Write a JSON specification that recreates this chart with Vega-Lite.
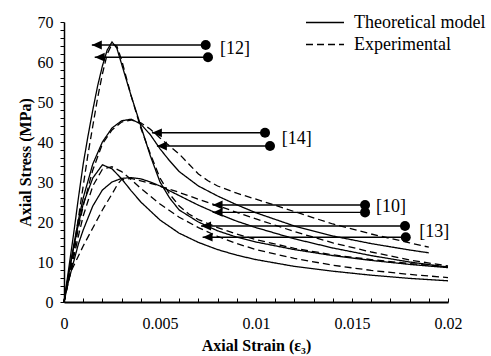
{
"$schema":"https://vega.github.io/schema/vega-lite/v6.json",
"width":384,"height":280,
"autosize":{"type":"none"},
"padding":{"left":64,"top":22,"right":43,"bottom":54},
"config":{"view":{"stroke":null},"font":"Liberation Serif",
 "axis":{"grid":false,"ticks":true,"labelOverlap":false,"domainColor":"black","tickColor":"black","tickWidth":1,"labelColor":"black","titleColor":"black","labelFont":"Liberation Serif","titleFont":"Liberation Serif","labelFontSize":16,"titleFontSize":16,"titleFontWeight":"bold"},
 "legend":{"labelFont":"Liberation Serif"}},
"datasets":{
"curves":[
{"c":"12T","t":"Theoretical model","s":0,"v":0},{"c":"12T","t":"Theoretical model","s":0.00025,"v":8.5},{"c":"12T","t":"Theoretical model","s":0.0005,"v":17},{"c":"12T","t":"Theoretical model","s":0.00075,"v":26},{"c":"12T","t":"Theoretical model","s":0.001,"v":34.5},{"c":"12T","t":"Theoretical model","s":0.00125,"v":41.5},{"c":"12T","t":"Theoretical model","s":0.0015,"v":48},{"c":"12T","t":"Theoretical model","s":0.00175,"v":54},{"c":"12T","t":"Theoretical model","s":0.002,"v":59},{"c":"12T","t":"Theoretical model","s":0.00225,"v":63},{"c":"12T","t":"Theoretical model","s":0.0025,"v":65},{"c":"12T","t":"Theoretical model","s":0.00275,"v":63.5},{"c":"12T","t":"Theoretical model","s":0.003,"v":59.5},{"c":"12T","t":"Theoretical model","s":0.0035,"v":51.5},{"c":"12T","t":"Theoretical model","s":0.004,"v":44},{"c":"12T","t":"Theoretical model","s":0.0045,"v":36.5},{"c":"12T","t":"Theoretical model","s":0.005,"v":30},{"c":"12T","t":"Theoretical model","s":0.0055,"v":26},{"c":"12T","t":"Theoretical model","s":0.006,"v":23},{"c":"12T","t":"Theoretical model","s":0.007,"v":20},{"c":"12T","t":"Theoretical model","s":0.008,"v":17.8},{"c":"12T","t":"Theoretical model","s":0.009,"v":16.2},{"c":"12T","t":"Theoretical model","s":0.01,"v":15},{"c":"12T","t":"Theoretical model","s":0.012,"v":13.1},{"c":"12T","t":"Theoretical model","s":0.014,"v":11.6},{"c":"12T","t":"Theoretical model","s":0.016,"v":10.4},{"c":"12T","t":"Theoretical model","s":0.018,"v":9.4},{"c":"12T","t":"Theoretical model","s":0.02,"v":8.6},
{"c":"12E","t":"Experimental","s":0,"v":0},{"c":"12E","t":"Experimental","s":0.00025,"v":6},{"c":"12E","t":"Experimental","s":0.0005,"v":13},{"c":"12E","t":"Experimental","s":0.00075,"v":21},{"c":"12E","t":"Experimental","s":0.001,"v":29},{"c":"12E","t":"Experimental","s":0.00125,"v":37},{"c":"12E","t":"Experimental","s":0.0015,"v":44},{"c":"12E","t":"Experimental","s":0.00175,"v":51},{"c":"12E","t":"Experimental","s":0.002,"v":57},{"c":"12E","t":"Experimental","s":0.00225,"v":62},{"c":"12E","t":"Experimental","s":0.0025,"v":64.5},{"c":"12E","t":"Experimental","s":0.00275,"v":64},{"c":"12E","t":"Experimental","s":0.003,"v":60.5},{"c":"12E","t":"Experimental","s":0.00325,"v":56},{"c":"12E","t":"Experimental","s":0.0035,"v":51.5},{"c":"12E","t":"Experimental","s":0.00375,"v":47.5},{"c":"12E","t":"Experimental","s":0.004,"v":43.5},{"c":"12E","t":"Experimental","s":0.0045,"v":37},{"c":"12E","t":"Experimental","s":0.005,"v":31},{"c":"12E","t":"Experimental","s":0.0055,"v":27},{"c":"12E","t":"Experimental","s":0.006,"v":24},{"c":"12E","t":"Experimental","s":0.0065,"v":22},{"c":"12E","t":"Experimental","s":0.007,"v":20.6},{"c":"12E","t":"Experimental","s":0.008,"v":18.6},{"c":"12E","t":"Experimental","s":0.009,"v":17},{"c":"12E","t":"Experimental","s":0.01,"v":15.6},{"c":"12E","t":"Experimental","s":0.012,"v":13.4},{"c":"12E","t":"Experimental","s":0.014,"v":11.8},{"c":"12E","t":"Experimental","s":0.016,"v":10.6},{"c":"12E","t":"Experimental","s":0.018,"v":9.6},{"c":"12E","t":"Experimental","s":0.02,"v":8.8},
{"c":"14T","t":"Theoretical model","s":0,"v":0},{"c":"14T","t":"Theoretical model","s":0.00025,"v":7.5},{"c":"14T","t":"Theoretical model","s":0.0005,"v":14},{"c":"14T","t":"Theoretical model","s":0.00075,"v":20.5},{"c":"14T","t":"Theoretical model","s":0.001,"v":26},{"c":"14T","t":"Theoretical model","s":0.0015,"v":34.5},{"c":"14T","t":"Theoretical model","s":0.002,"v":40},{"c":"14T","t":"Theoretical model","s":0.0025,"v":43.5},{"c":"14T","t":"Theoretical model","s":0.003,"v":45.3},{"c":"14T","t":"Theoretical model","s":0.0035,"v":45.7},{"c":"14T","t":"Theoretical model","s":0.004,"v":44.5},{"c":"14T","t":"Theoretical model","s":0.0045,"v":41.8},{"c":"14T","t":"Theoretical model","s":0.005,"v":38.3},{"c":"14T","t":"Theoretical model","s":0.0055,"v":35.3},{"c":"14T","t":"Theoretical model","s":0.006,"v":32.6},{"c":"14T","t":"Theoretical model","s":0.007,"v":29},{"c":"14T","t":"Theoretical model","s":0.008,"v":26.5},{"c":"14T","t":"Theoretical model","s":0.009,"v":24.3},{"c":"14T","t":"Theoretical model","s":0.01,"v":22.3},{"c":"14T","t":"Theoretical model","s":0.012,"v":19},{"c":"14T","t":"Theoretical model","s":0.014,"v":16.5},{"c":"14T","t":"Theoretical model","s":0.016,"v":14.6},{"c":"14T","t":"Theoretical model","s":0.018,"v":13},{"c":"14T","t":"Theoretical model","s":0.019,"v":12.3},
{"c":"14E","t":"Experimental","s":0,"v":0},{"c":"14E","t":"Experimental","s":0.00025,"v":6},{"c":"14E","t":"Experimental","s":0.0005,"v":12},{"c":"14E","t":"Experimental","s":0.00075,"v":18.5},{"c":"14E","t":"Experimental","s":0.001,"v":24},{"c":"14E","t":"Experimental","s":0.0015,"v":33},{"c":"14E","t":"Experimental","s":0.002,"v":39.5},{"c":"14E","t":"Experimental","s":0.0025,"v":43},{"c":"14E","t":"Experimental","s":0.003,"v":45},{"c":"14E","t":"Experimental","s":0.0035,"v":45.5},{"c":"14E","t":"Experimental","s":0.004,"v":44.8},{"c":"14E","t":"Experimental","s":0.0045,"v":43.2},{"c":"14E","t":"Experimental","s":0.005,"v":41},{"c":"14E","t":"Experimental","s":0.0055,"v":39},{"c":"14E","t":"Experimental","s":0.006,"v":37},{"c":"14E","t":"Experimental","s":0.0065,"v":34.5},{"c":"14E","t":"Experimental","s":0.007,"v":32},{"c":"14E","t":"Experimental","s":0.0075,"v":30.3},{"c":"14E","t":"Experimental","s":0.008,"v":29},{"c":"14E","t":"Experimental","s":0.009,"v":27.2},{"c":"14E","t":"Experimental","s":0.01,"v":25.7},{"c":"14E","t":"Experimental","s":0.011,"v":24.2},{"c":"14E","t":"Experimental","s":0.012,"v":22.6},{"c":"14E","t":"Experimental","s":0.014,"v":19.5},{"c":"14E","t":"Experimental","s":0.016,"v":17},{"c":"14E","t":"Experimental","s":0.018,"v":14.8},{"c":"14E","t":"Experimental","s":0.019,"v":13.7},
{"c":"13T","t":"Theoretical model","s":0,"v":0},{"c":"13T","t":"Theoretical model","s":0.00025,"v":7},{"c":"13T","t":"Theoretical model","s":0.0005,"v":13.5},{"c":"13T","t":"Theoretical model","s":0.00075,"v":19.5},{"c":"13T","t":"Theoretical model","s":0.001,"v":24.5},{"c":"13T","t":"Theoretical model","s":0.0015,"v":31},{"c":"13T","t":"Theoretical model","s":0.002,"v":34.3},{"c":"13T","t":"Theoretical model","s":0.0025,"v":33.3},{"c":"13T","t":"Theoretical model","s":0.003,"v":30.8},{"c":"13T","t":"Theoretical model","s":0.0035,"v":27.8},{"c":"13T","t":"Theoretical model","s":0.004,"v":25},{"c":"13T","t":"Theoretical model","s":0.005,"v":20.5},{"c":"13T","t":"Theoretical model","s":0.006,"v":17.2},{"c":"13T","t":"Theoretical model","s":0.007,"v":14.9},{"c":"13T","t":"Theoretical model","s":0.008,"v":13.1},{"c":"13T","t":"Theoretical model","s":0.009,"v":11.7},{"c":"13T","t":"Theoretical model","s":0.01,"v":10.6},{"c":"13T","t":"Theoretical model","s":0.012,"v":8.9},{"c":"13T","t":"Theoretical model","s":0.014,"v":7.7},{"c":"13T","t":"Theoretical model","s":0.016,"v":6.7},{"c":"13T","t":"Theoretical model","s":0.018,"v":5.9},{"c":"13T","t":"Theoretical model","s":0.02,"v":5.3},
{"c":"13E","t":"Experimental","s":0,"v":0},{"c":"13E","t":"Experimental","s":0.00025,"v":5.5},{"c":"13E","t":"Experimental","s":0.0005,"v":11},{"c":"13E","t":"Experimental","s":0.00075,"v":16.5},{"c":"13E","t":"Experimental","s":0.001,"v":21.5},{"c":"13E","t":"Experimental","s":0.0015,"v":29},{"c":"13E","t":"Experimental","s":0.002,"v":33.2},{"c":"13E","t":"Experimental","s":0.0025,"v":33.8},{"c":"13E","t":"Experimental","s":0.003,"v":32.6},{"c":"13E","t":"Experimental","s":0.0035,"v":30.6},{"c":"13E","t":"Experimental","s":0.004,"v":28.4},{"c":"13E","t":"Experimental","s":0.005,"v":24.5},{"c":"13E","t":"Experimental","s":0.006,"v":21.2},{"c":"13E","t":"Experimental","s":0.007,"v":18.6},{"c":"13E","t":"Experimental","s":0.008,"v":16.4},{"c":"13E","t":"Experimental","s":0.009,"v":14.6},{"c":"13E","t":"Experimental","s":0.01,"v":13.1},{"c":"13E","t":"Experimental","s":0.012,"v":10.9},{"c":"13E","t":"Experimental","s":0.014,"v":9.2},{"c":"13E","t":"Experimental","s":0.016,"v":7.9},{"c":"13E","t":"Experimental","s":0.018,"v":6.9},{"c":"13E","t":"Experimental","s":0.02,"v":6.1},
{"c":"10T","t":"Theoretical model","s":0,"v":0},{"c":"10T","t":"Theoretical model","s":0.00025,"v":5.5},{"c":"10T","t":"Theoretical model","s":0.0005,"v":10},{"c":"10T","t":"Theoretical model","s":0.00075,"v":14.5},{"c":"10T","t":"Theoretical model","s":0.001,"v":18},{"c":"10T","t":"Theoretical model","s":0.0015,"v":24},{"c":"10T","t":"Theoretical model","s":0.002,"v":28},{"c":"10T","t":"Theoretical model","s":0.0025,"v":30},{"c":"10T","t":"Theoretical model","s":0.003,"v":30.9},{"c":"10T","t":"Theoretical model","s":0.0035,"v":31.1},{"c":"10T","t":"Theoretical model","s":0.004,"v":30.8},{"c":"10T","t":"Theoretical model","s":0.0045,"v":30},{"c":"10T","t":"Theoretical model","s":0.005,"v":29},{"c":"10T","t":"Theoretical model","s":0.006,"v":26.6},{"c":"10T","t":"Theoretical model","s":0.007,"v":24.2},{"c":"10T","t":"Theoretical model","s":0.008,"v":22.1},{"c":"10T","t":"Theoretical model","s":0.009,"v":20.2},{"c":"10T","t":"Theoretical model","s":0.01,"v":18.6},{"c":"10T","t":"Theoretical model","s":0.012,"v":15.8},{"c":"10T","t":"Theoretical model","s":0.014,"v":13.5},{"c":"10T","t":"Theoretical model","s":0.016,"v":11.6},{"c":"10T","t":"Theoretical model","s":0.018,"v":10},{"c":"10T","t":"Theoretical model","s":0.02,"v":8.7},
{"c":"10E","t":"Experimental","s":0,"v":0},{"c":"10E","t":"Experimental","s":0.0002,"v":5},{"c":"10E","t":"Experimental","s":0.0004,"v":8},{"c":"10E","t":"Experimental","s":0.0007,"v":11},{"c":"10E","t":"Experimental","s":0.001,"v":14},{"c":"10E","t":"Experimental","s":0.0015,"v":18.5},{"c":"10E","t":"Experimental","s":0.002,"v":23},{"c":"10E","t":"Experimental","s":0.0025,"v":27},{"c":"10E","t":"Experimental","s":0.0028,"v":29.5},{"c":"10E","t":"Experimental","s":0.003,"v":30.6},{"c":"10E","t":"Experimental","s":0.0035,"v":30.9},{"c":"10E","t":"Experimental","s":0.004,"v":30.3},{"c":"10E","t":"Experimental","s":0.005,"v":29},{"c":"10E","t":"Experimental","s":0.006,"v":27.4},{"c":"10E","t":"Experimental","s":0.007,"v":25.7},{"c":"10E","t":"Experimental","s":0.008,"v":24.1},{"c":"10E","t":"Experimental","s":0.009,"v":22.4},{"c":"10E","t":"Experimental","s":0.01,"v":20.8},{"c":"10E","t":"Experimental","s":0.012,"v":17.6},{"c":"10E","t":"Experimental","s":0.014,"v":14.8},{"c":"10E","t":"Experimental","s":0.016,"v":12.5},{"c":"10E","t":"Experimental","s":0.018,"v":10.5},{"c":"10E","t":"Experimental","s":0.02,"v":9}
],
"arrows":[
{"ref":"[12]","dot":0.00738,"tip":0.00145,"head":0.00174,"y":64.25},
{"ref":"[12]","dot":0.0075,"tip":0.0016,"head":0.00189,"y":61.2},
{"ref":"[14]","dot":0.01047,"tip":0.00458,"head":0.00487,"y":42.3},
{"ref":"[14]","dot":0.01073,"tip":0.00484,"head":0.00513,"y":39},
{"ref":"[10]","dot":0.01568,"tip":0.00774,"head":0.00803,"y":24.25},
{"ref":"[10]","dot":0.01568,"tip":0.00774,"head":0.00803,"y":22.4},
{"ref":"[13]","dot":0.01776,"tip":0.00714,"head":0.00743,"y":19},
{"ref":"[13]","dot":0.0178,"tip":0.00722,"head":0.00751,"y":16.2}
],
"labels":[
{"ref":"[12]","lx":0.008125,"ly":63.25},
{"ref":"[14]","lx":0.01134,"ly":40.75},
{"ref":"[10]","lx":0.01625,"ly":23.75},
{"ref":"[13]","lx":0.0185,"ly":17.4}
]},
"layer":[
{"data":{"name":"curves"},
 "mark":{"type":"line","strokeWidth":1.3,"color":"black"},
 "encoding":{
  "x":{"field":"s","type":"quantitative","scale":{"domain":[0,0.02],"nice":false},
   "axis":{"title":"Axial Strain (ε₃)","tickCount":20,
    "labelExpr":"abs(datum.value*200-round(datum.value*200))<0.000001 ? format(datum.value,'~g') : ''","labelOverlap":false,"ticks":true,"tickSize":-4,"labelPadding":17,"domainWidth":2,"titlePadding":6,"labelFlush":false}},
  "y":{"field":"v","type":"quantitative","scale":{"domain":[0,70],"nice":false},
   "axis":{"title":"Axial Stress (MPa)","tickCount":35,
    "labelExpr":"datum.value % 10 === 0 ? datum.label : ''","labelOverlap":false,"ticks":true,"tickSize":4,"labelPadding":7,"domainWidth":1.5,"titlePadding":4}},
  "detail":{"field":"c"},
  "strokeDash":{"field":"t","type":"nominal","scale":{"domain":["Theoretical model","Experimental"],"range":[[1,0],[7,4]]},
   "legend":{"title":null,"orient":"none","legendX":250.5,"legendY":-10,"symbolType":"M-2,0L2,0","symbolSize":361,"symbolStrokeWidth":1.6,"symbolStrokeColor":"black","symbolFillColor":"transparent","labelFontSize":18,"labelFont":"Liberation Serif","labelColor":"black","labelOffset":18.5,"rowPadding":2,"padding":0}},
  "order":{"field":"s","type":"quantitative"}}},
{"data":{"name":"arrows"},
 "mark":{"type":"rule","strokeWidth":1.4,"color":"black"},
 "encoding":{"x":{"field":"dot","type":"quantitative"},"x2":{"field":"tip"},"y":{"field":"y","type":"quantitative"}}},
{"data":{"name":"arrows"},
 "mark":{"type":"point","shape":"circle","filled":true,"size":100,"color":"black","opacity":1},
 "encoding":{"x":{"field":"dot","type":"quantitative"},"y":{"field":"y","type":"quantitative"}}},
{"data":{"name":"arrows"},
 "mark":{"type":"point","shape":"M-1,0L0.8,-0.8L0.8,0.8Z","filled":true,"size":121,"color":"black","opacity":1},
 "encoding":{"x":{"field":"head","type":"quantitative"},"y":{"field":"y","type":"quantitative"}}},
{"data":{"name":"labels"},
 "mark":{"type":"text","align":"left","baseline":"middle","fontSize":18,"font":"Liberation Serif","color":"black"},
 "encoding":{"x":{"field":"lx","type":"quantitative"},"y":{"field":"ly","type":"quantitative"},"text":{"field":"ref"}}}
]
}
